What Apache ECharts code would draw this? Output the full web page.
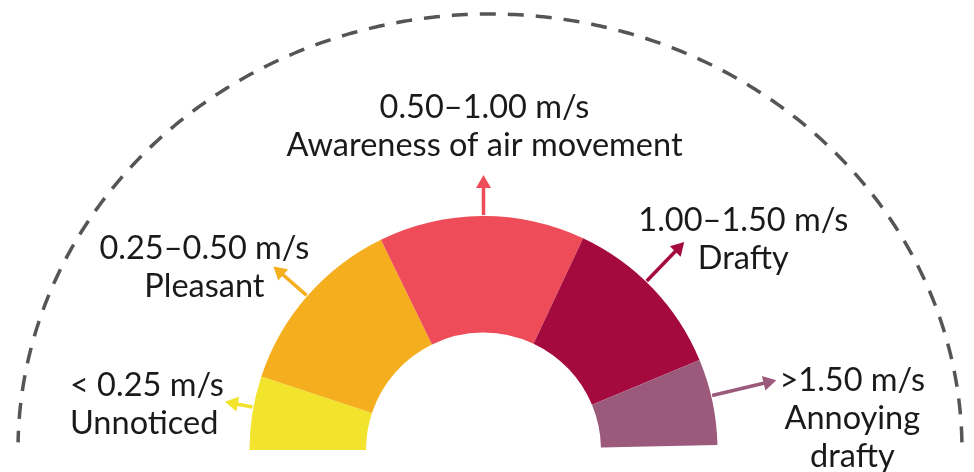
<!DOCTYPE html>
<html>
<head>
<meta charset="utf-8">
<script src="https://cdn.jsdelivr.net/npm/echarts@6/dist/echarts.min.js"></script>
<style>
  html, body { margin: 0; padding: 0; background: #ffffff; }
  #chart { width: 974px; height: 472px; }
</style>
</head>
<body>
<div id="chart"></div>
<script>
// ---- data ----
const speedRanges = ['< 0.25 m/s', '0.25–0.50 m/s', '0.50–1.00 m/s', '1.00–1.50 m/s', '>1.50 m/s'];
const sensations = ['Unnoticed', 'Pleasant', 'Awareness of air movement', 'Drafty', 'Annoying\ndrafty'];
// angular share of each band within the half ring (degrees of arc)
const bandShares = [18.3, 45.7, 51.2, 42.2, 21.4];
const bandColors = ['#F2E32C', '#F5AF1E', '#EE4C58', '#A50A3E', '#9B5A7B'];

// ---- annotation layout (not data) ----
const arrowAngleNudge = [1.4, 0, 0.4, -2.3, -1.5];
const arrowLength = [28, 44, 40, 54, 66];
const labelOffset = [[-155, 3, 'left'], [-69, 1, 'center'], [1, -48, 'center'], [59, -3, 'center'], [76, 38, 'center']];

const CX = 483.5, CY = 450, R_IN = 117.5, R_OUT = 234;

const chart = echarts.init(document.getElementById('chart'), null, { renderer: 'canvas' });

const total = bandShares.reduce((a, b) => a + b, 0);
const pieData = bandShares.map((v, i) => ({
  name: speedRanges[i], value: v, itemStyle: { color: bandColors[i] }
}));
pieData.push({ name: 'rest', value: 360 - total, itemStyle: { color: 'rgba(0,0,0,0)' } });

let acc = 0;
const arrowData = bandShares.map((v, i) => {
  const mid = acc + v / 2 + arrowAngleNudge[i];
  acc += v;
  return [mid, R_OUT + 1, R_OUT + 1 + arrowLength[i], i];
});

// decorative dashed outer ellipse
const ellipsePts = [];
for (let a = 1; a <= 179.01; a += 0.5) {
  const t = a * Math.PI / 180;
  ellipsePts.push([490 + 472 * Math.cos(t), 450 - 436 * Math.sin(t)]);
}

const FONT = 'Lato, "Noto Sans", sans-serif';

chart.setOption({
  animation: false,
  backgroundColor: '#ffffff',
  polar: { center: [CX, CY], radius: [0, 300] },
  angleAxis: { type: 'value', min: 0, max: 360, startAngle: 180, clockwise: true, show: false },
  radiusAxis: { type: 'value', min: 0, max: 300, show: false },
  graphic: [{
    type: 'polyline', silent: true, z: 0,
    shape: { points: ellipsePts },
    style: { stroke: '#555555', lineWidth: 3.5, lineDash: [16, 12], fill: null }
  }],
  series: [
    {
      type: 'pie',
      center: [CX, CY],
      radius: [R_IN, R_OUT],
      startAngle: 180,
      clockwise: true,
      silent: true,
      label: { show: false },
      labelLine: { show: false },
      itemStyle: { borderWidth: 0 },
      emphasis: { disabled: true },
      data: pieData
    },
    {
      type: 'custom',
      coordinateSystem: 'polar',
      silent: true,
      encode: { angle: 0, radius: 2 },
      data: arrowData,
      renderItem: function (params, api) {
        const i = api.value(3);
        const ang = api.value(0);
        const p0 = api.coord([api.value(1), ang]);
        const p1 = api.coord([api.value(2), ang]);
        const dx = p1[0] - p0[0], dy = p1[1] - p0[1];
        const len = Math.hypot(dx, dy);
        const ux = dx / len, uy = dy / len;
        const head = 13, hw = 7.5;
        const bx = p1[0] - ux * head, by = p1[1] - uy * head;
        const color = bandColors[i];
        const off = labelOffset[i];
        return {
          type: 'group',
          children: [
            { type: 'line', shape: { x1: p0[0], y1: p0[1], x2: bx + ux * 1, y2: by + uy * 1 },
              style: { stroke: color, lineWidth: 3.5 } },
            { type: 'polygon', shape: { points: [[p1[0], p1[1]], [bx - uy * hw, by + ux * hw], [bx + uy * hw, by - ux * hw]] },
              style: { fill: color } },
            { type: 'text', x: p1[0] + off[0], y: p1[1] + off[1],
              style: { text: speedRanges[i] + '\n' + sensations[i], fill: '#1a1a1a',
                       font: '32.5px ' + FONT, align: off[2], verticalAlign: 'middle', lineHeight: 38 } }
          ]
        };
      }
    }
  ]
});
</script>
</body>
</html>
